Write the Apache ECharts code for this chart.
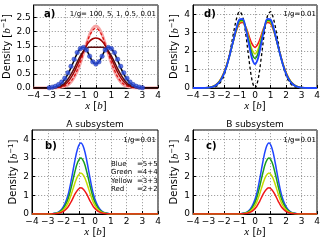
<!DOCTYPE html>
<html><head><meta charset="utf-8">
<script src="https://cdn.jsdelivr.net/npm/echarts@6/dist/echarts.min.js"></script>
<style>html,body{margin:0;padding:0;background:#fff}#c{width:324px;height:242px}</style>
</head><body><div id="c"></div>
<script>
// ---- data ----
const xTicks = [-4,-3,-2,-1,0,1,2,3,4];
const xs = [-4,-3.8,-3.6,-3.4,-3.2,-3,-2.8,-2.6,-2.4,-2.2,-2,-1.8,-1.6,-1.4,-1.2,-1,-0.8,-0.6,-0.4,-0.2,0,0.2,0.4,0.6,0.8,1,1.2,1.4,1.6,1.8,2,2.2,2.4,2.6,2.8,3,3.2,3.4,3.6,3.8,4];
// panel a) 1/g = 100, 5, 1, 0.5, 0.01
const aG100 = [0,0,0,0,0,0,0,0,0.01,0.03,0.06,0.11,0.21,0.37,0.59,0.88,1.23,1.58,1.90,2.12,2.20,2.12,1.90,1.58,1.23,0.88,0.59,0.37,0.21,0.11,0.06,0.03,0.01,0,0,0,0,0,0,0,0];
const aG5 = [0,0,0,0,0,0,0,0,0.01,0.03,0.07,0.13,0.24,0.40,0.63,0.91,1.24,1.57,1.86,2.05,2.12,2.05,1.86,1.57,1.24,0.91,0.63,0.40,0.24,0.13,0.07,0.03,0.01,0,0,0,0,0,0,0,0];
const aG1 = [0,0,0,0,0,0,0,0.01,0.03,0.06,0.12,0.22,0.37,0.56,0.80,1.05,1.30,1.51,1.66,1.75,1.78,1.75,1.66,1.51,1.30,1.05,0.80,0.56,0.37,0.22,0.12,0.06,0.03,0.01,0,0,0,0,0,0,0];
const aG05 = [0,0,0,0,0,0,0.01,0.02,0.05,0.10,0.18,0.31,0.48,0.69,0.92,1.14,1.31,1.41,1.45,1.45,1.45,1.45,1.45,1.41,1.31,1.14,0.92,0.69,0.48,0.31,0.18,0.10,0.05,0.02,0.01,0,0,0,0,0,0];
const aG001 = [0,0,0,0,0,0.01,0.02,0.05,0.10,0.18,0.31,0.49,0.72,0.98,1.23,1.40,1.45,1.35,1.13,0.93,0.85,0.93,1.13,1.35,1.45,1.40,1.23,0.98,0.72,0.49,0.31,0.18,0.10,0.05,0.02,0.01,0,0,0,0,0];
const dotX = [-3,-2.8,-2.6,-2.4,-2.2,-2,-1.8,-1.6,-1.4,-1.2,-1,-0.8,-0.6,-0.4,-0.2,0,0.2,0.4,0.6,0.8,1,1.2,1.4,1.6,1.8,2,2.2,2.4,2.6,2.8,3];
const dotY = [0.01,0.03,0.06,0.12,0.21,0.35,0.54,0.77,1.02,1.26,1.40,1.44,1.35,1.13,0.93,0.85,0.93,1.13,1.35,1.44,1.40,1.26,1.02,0.77,0.54,0.35,0.21,0.12,0.06,0.03,0.01];
// panel d)
const dBlack = [0,0,0,0,0,0.01,0.02,0.06,0.15,0.34,0.68,1.24,2.02,2.92,3.73,4.14,3.89,2.95,1.62,0.46,0,0.46,1.62,2.95,3.89,4.14,3.73,2.92,2.02,1.24,0.68,0.34,0.15,0.06,0.02,0.01,0,0,0,0,0];
const dRed = [0,0,0,0,0.01,0.02,0.06,0.13,0.27,0.50,0.85,1.33,1.92,2.55,3.12,3.50,3.55,3.32,2.85,2.40,2.20,2.40,2.85,3.32,3.55,3.50,3.12,2.55,1.92,1.33,0.85,0.50,0.27,0.13,0.06,0.02,0.01,0,0,0,0];
const dYellow = [0,0,0,0,0.01,0.02,0.06,0.12,0.25,0.48,0.82,1.30,1.90,2.56,3.17,3.58,3.62,3.28,2.68,2.10,1.85,2.10,2.68,3.28,3.62,3.58,3.17,2.56,1.90,1.30,0.82,0.48,0.25,0.12,0.06,0.02,0.01,0,0,0,0];
const dGreen = [0,0,0,0,0.01,0.02,0.05,0.12,0.24,0.46,0.80,1.28,1.88,2.56,3.20,3.64,3.68,3.25,2.55,1.88,1.60,1.88,2.55,3.25,3.68,3.64,3.20,2.56,1.88,1.28,0.80,0.46,0.24,0.12,0.05,0.02,0.01,0,0,0,0];
const dBlue = [0,0,0,0,0.01,0.02,0.05,0.11,0.23,0.44,0.78,1.26,1.88,2.58,3.25,3.72,3.75,3.22,2.40,1.62,1.30,1.62,2.40,3.22,3.75,3.72,3.25,2.58,1.88,1.26,0.78,0.44,0.23,0.11,0.05,0.02,0.01,0,0,0,0];
// panel b) A subsystem
const xB = [-4,-3.1,-2.9,-2.7,-2.5,-2.3,-2.1,-1.9,-1.7,-1.5,-1.3,-1.1,-0.9,-0.7,-0.5,-0.3,-0.1,0.1,0.3,0.5,0.7,0.9,1.1,1.3,4];
const bBlue = [0,0,0.01,0.02,0.05,0.11,0.27,0.57,1.06,1.85,2.76,3.51,3.80,3.51,2.76,1.85,1.06,0.57,0.27,0.11,0.05,0.02,0.01,0,0];
const bGreen = [0,0,0,0.01,0.04,0.09,0.21,0.45,0.83,1.46,2.18,2.77,3.00,2.77,2.18,1.46,0.83,0.45,0.21,0.09,0.04,0.01,0,0,0];
const bYellow = [0,0,0,0.01,0.03,0.07,0.15,0.33,0.61,1.07,1.60,2.03,2.20,2.03,1.60,1.07,0.61,0.33,0.15,0.07,0.03,0.01,0,0,0];
const bRed = [0,0,0,0.01,0.02,0.04,0.10,0.21,0.39,0.68,1.02,1.29,1.40,1.29,1.02,0.68,0.39,0.21,0.10,0.04,0.02,0.01,0,0,0];
// panel c) B subsystem
const xC = [-4,-1.3,-1.1,-0.9,-0.7,-0.5,-0.3,-0.1,0.1,0.3,0.5,0.7,0.9,1.1,1.3,1.5,1.7,1.9,2.1,2.3,2.5,2.7,2.9,3.1,4];
const cBlue = [0,0,0.01,0.02,0.05,0.11,0.27,0.57,1.06,1.85,2.76,3.51,3.80,3.51,2.76,1.85,1.06,0.57,0.27,0.11,0.05,0.02,0.01,0,0];
const cGreen = [0,0,0,0.01,0.04,0.09,0.21,0.45,0.83,1.46,2.18,2.77,3.00,2.77,2.18,1.46,0.83,0.45,0.21,0.09,0.04,0.01,0,0,0];
const cYellow = [0,0,0,0.01,0.03,0.07,0.15,0.33,0.61,1.07,1.60,2.03,2.20,2.03,1.60,1.07,0.61,0.33,0.15,0.07,0.03,0.01,0,0,0];
const cRed = [0,0,0,0.01,0.02,0.04,0.10,0.21,0.39,0.68,1.02,1.29,1.40,1.29,1.02,0.68,0.39,0.21,0.10,0.04,0.02,0.01,0,0,0];
const legendNames = ['Blue','Green','Yellow','Red'];
const legendVals = ['=5+5','=4+4','=3+3','=2+2'];

// ---- chart ----
const FONT = 'DejaVu Sans';
const C = {blue:'#1f45ff', green:'#1a9e1a', yellow:'#c4da00', red:'#f01818'};
const pairs = (x,y) => x.map((v,i)=>[v,y[i]]);
const chart = echarts.init(document.getElementById('c'), null, {renderer:'canvas'});
const gridBase = {show:true, borderColor:'#000', borderWidth:1, backgroundColor:'transparent', containLabel:false};
const grids = [
  Object.assign({left:32, top:5, width:126, height:83}, gridBase),
  Object.assign({left:193, top:5, width:124, height:83}, gridBase),
  Object.assign({left:32, top:130, width:126, height:84}, gridBase),
  Object.assign({left:193, top:130, width:124, height:84}, gridBase)
];
const minusFmt = v => (v<0 ? '\u2212'+Math.abs(v) : String(v));
const split = {show:true, lineStyle:{type:[1.2,1.8], color:'#8a8a8a', width:0.8}};
const xAx = gi => ({
  type:'value', gridIndex:gi, min:xTicks[0], max:xTicks[xTicks.length-1], interval:1,
  axisLine:{show:true, onZero:false, lineStyle:{color:'#000', width:1}},
  axisTick:{show:true, inside:true, length:3, lineStyle:{color:'#000'}},
  axisLabel:{fontFamily:FONT, fontSize:9, color:'#000', margin:3, formatter:minusFmt},
  splitLine:split,
  name:'{i|x} [{i|b}]', nameLocation:'middle', nameGap:12,
  nameTextStyle:{fontFamily:FONT, fontSize:10, color:'#000', rich:{i:{fontFamily:'Liberation Serif', fontStyle:'italic', fontSize:11, color:'#000'}}}
});
const yAx = (gi, max, interval, fmt, gap) => ({
  type:'value', gridIndex:gi, min:0, max:max, interval:interval,
  axisLine:{show:true, onZero:false, lineStyle:{color:'#000', width:1}},
  axisTick:{show:true, inside:true, length:3, lineStyle:{color:'#000'}},
  axisLabel:{fontFamily:FONT, fontSize:9, color:'#000', margin:3, formatter:fmt, showMaxLabel:false},
  splitLine:split,
  name:'{n|Density [}{i|b}{s|\u22121}{n|]}', nameLocation:'middle', nameGap:gap, nameRotate:90,
  nameTextStyle:{fontFamily:FONT, fontSize:10, color:'#000', rich:{
    n:{fontFamily:FONT, fontSize:10, color:'#000', lineHeight:12},
    i:{fontFamily:'Liberation Serif', fontStyle:'italic', fontSize:11, color:'#000', lineHeight:12},
    s:{fontFamily:FONT, fontSize:7, color:'#000', verticalAlign:'top', lineHeight:12}
  }}
});
const line = (gi, x, y, color, width, extra) => Object.assign({
  type:'line', xAxisIndex:gi, yAxisIndex:gi, data:pairs(x,y), smooth:0.35, showSymbol:false,
  lineStyle:{color:color, width:width}, itemStyle:{color:color}, z:3, silent:true, animation:false
}, extra||{});

const series = [
  line(0, xs, aG100, '#f6a5a5', 3),
  line(0, xs, aG5, '#e01010', 1.2, {lineStyle:{color:'#e01010', width:1.2, type:[3,2]}}),
  line(0, xs, aG1, '#a30000', 1.5),
  line(0, xs, aG05, '#5a0c0c', 1.5),
  line(0, xs, aG001, '#000000', 1.5),
  {type:'scatter', xAxisIndex:0, yAxisIndex:0, data:pairs(dotX, dotY), symbol:'circle', symbolSize:4.5,
   itemStyle:{color:'#2f52e8', borderColor:'#1a2a90', borderWidth:0.5}, z:5, silent:true, animation:false},
  line(1, xs, dBlack, '#000', 1.3, {lineStyle:{color:'#000', width:1.3, type:[3,2.5]}}),
  line(1, xs, dRed, C.red, 1.6),
  line(1, xs, dYellow, C.yellow, 1.6),
  line(1, xs, dGreen, C.green, 1.6),
  line(1, xs, dBlue, C.blue, 1.8),
  line(2, xB, bBlue, C.blue, 1.5),
  line(2, xB, bGreen, C.green, 1.5),
  line(2, xB, bYellow, C.yellow, 1.5),
  line(2, xB, bRed, C.red, 1.5),
  line(3, xC, cBlue, C.blue, 1.5),
  line(3, xC, cGreen, C.green, 1.5),
  line(3, xC, cYellow, C.yellow, 1.5),
  line(3, xC, cRed, C.red, 1.5)
];

const txt = (x, y, text, font, align) => ({
  type:'text', z:100, silent:true,
  style:{text:text, x:x, y:y, font:font, fill:'#000', align:align||'left', verticalAlign:'middle', textAlign:align||'left', textVerticalAlign:'middle'}
});
const small = '7px "DejaVu Sans"';
const bold = 'bold 10px "DejaVu Sans"';
const graphics = [
  txt(44, 14, 'a)', bold), txt(156, 14, '1/g= 100, 5, 1, 0.5, 0.01', small, 'right'),
  txt(204, 14, 'd)', bold), txt(316, 14, '1/g=0.01', small, 'right'),
  txt(45, 146, 'b)', bold), txt(156, 140, '1/g=0.01', small, 'right'),
  txt(206, 146, 'c)', bold), txt(316, 140, '1/g=0.01', small, 'right'),
  txt(95, 125, 'A subsystem', '9px "DejaVu Sans"', 'center'),
  txt(255, 125, 'B subsystem', '9px "DejaVu Sans"', 'center')
];
const legY = [164, 172.5, 181, 189.5];
legendNames.forEach((n,i)=>{ graphics.push(txt(111, legY[i], n, small)); graphics.push(txt(137, legY[i], legendVals[i], small)); });

chart.setOption({
  animation:false,
  textStyle:{fontFamily:FONT},
  grid:grids,
  xAxis:[xAx(0), xAx(1), xAx(2), xAx(3)],
  yAxis:[
    yAx(0, 2.95, 0.5, v=>v.toFixed(1), 17),
    yAx(1, 4.5, 1, v=>String(v), 11),
    yAx(2, 4.5, 1, v=>String(v), 11),
    yAx(3, 4.5, 1, v=>String(v), 11)
  ],
  series:series,
  graphic:graphics
});
</script>
</body></html>
